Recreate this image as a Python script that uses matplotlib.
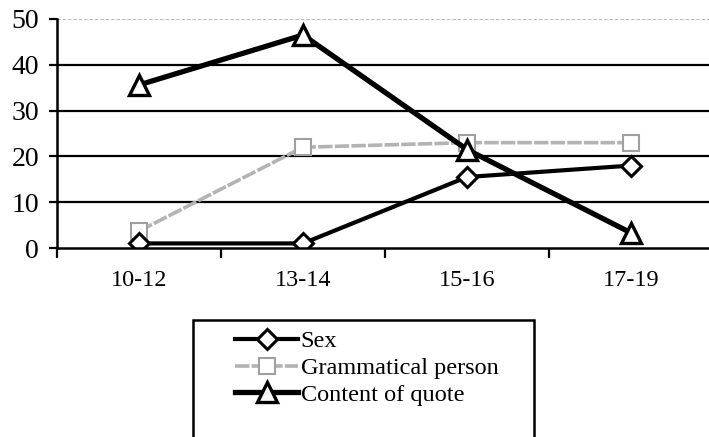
import numpy as np
import matplotlib.pyplot as plt
from matplotlib.patches import Rectangle

grupos = ['10-12', '13-14', '15-16', '17-19']
sexo = [1, 1, 15.5, 18]
persona = [3.7, 22, 23, 23]
contenido = [35.6, 46.5, 21.5, 3.3]

plt.rcParams['font.family'] = ['Liberation Serif', 'DejaVu Serif']

fig = plt.figure(figsize=(7.09, 4.37), dpi=100)
ax = fig.add_axes([57 / 709, 1 - 248 / 437, 656 / 709, 229 / 437])

x = np.arange(len(grupos))

# lineas de la rejilla
for v in [10, 20, 30, 40]:
    ax.axhline(v, color='black', lw=1.6, zorder=1)
ax.axhline(50, color='#b5b5b5', lw=1.3, ls=(0, (2, 1)), zorder=1)

l1, = ax.plot(x, sexo, color='black', lw=3.0, marker='D', markersize=10,
              markerfacecolor='white', markeredgecolor='black', markeredgewidth=2.2,
              label='Sex', zorder=3)
l2, = ax.plot(x, persona, color='#b3b3b3', lw=2.6, marker='s', markersize=12,
              markerfacecolor='white', markeredgecolor='#a0a0a0', markeredgewidth=1.5,
              ls=(0, (4, 0.6)), label='Grammatical person', zorder=2)
l3, = ax.plot(x, contenido, color='black', lw=3.8, marker='^', markersize=14,
              markerfacecolor='white', markeredgecolor='black', markeredgewidth=2.4,
              label='Content of quote', zorder=4)

ax.set_xlim(-0.5, 3.5)
ax.set_ylim(0, 50)
ax.set_yticks([0, 10, 20, 30, 40, 50])
ax.set_xticks(x)
ax.set_xticklabels(grupos)
ax.set_xticks([-0.5, 0.5, 1.5, 2.5], minor=True)
ax.tick_params(axis='x', which='major', length=0, pad=16, labelsize=17.5)
ax.tick_params(axis='x', which='minor', length=7, width=1.6, direction='out')
ax.tick_params(axis='y', length=6, width=1.6, pad=7, labelsize=20)

for s in ['top', 'right']:
    ax.spines[s].set_visible(False)
ax.spines['left'].set_linewidth(1.8)
ax.spines['bottom'].set_linewidth(1.8)
ax.spines['bottom'].set_zorder(5)

# caja de la leyenda
fig.patches.append(Rectangle((193 / 709, -0.05), (534 - 193) / 709, 1 - 320 / 437 + 0.05,
                             transform=fig.transFigure, fill=False, edgecolor='black', lw=1.8))
fig.legend(handles=[l1, l2, l3], loc='upper left', bbox_to_anchor=(223 / 709, 1 - 318 / 437),
           frameon=False, fontsize=17.5, handlelength=2.6, handletextpad=0.1,
           labelspacing=0.2, borderpad=0)

fig.savefig('out.png', dpi=100)
